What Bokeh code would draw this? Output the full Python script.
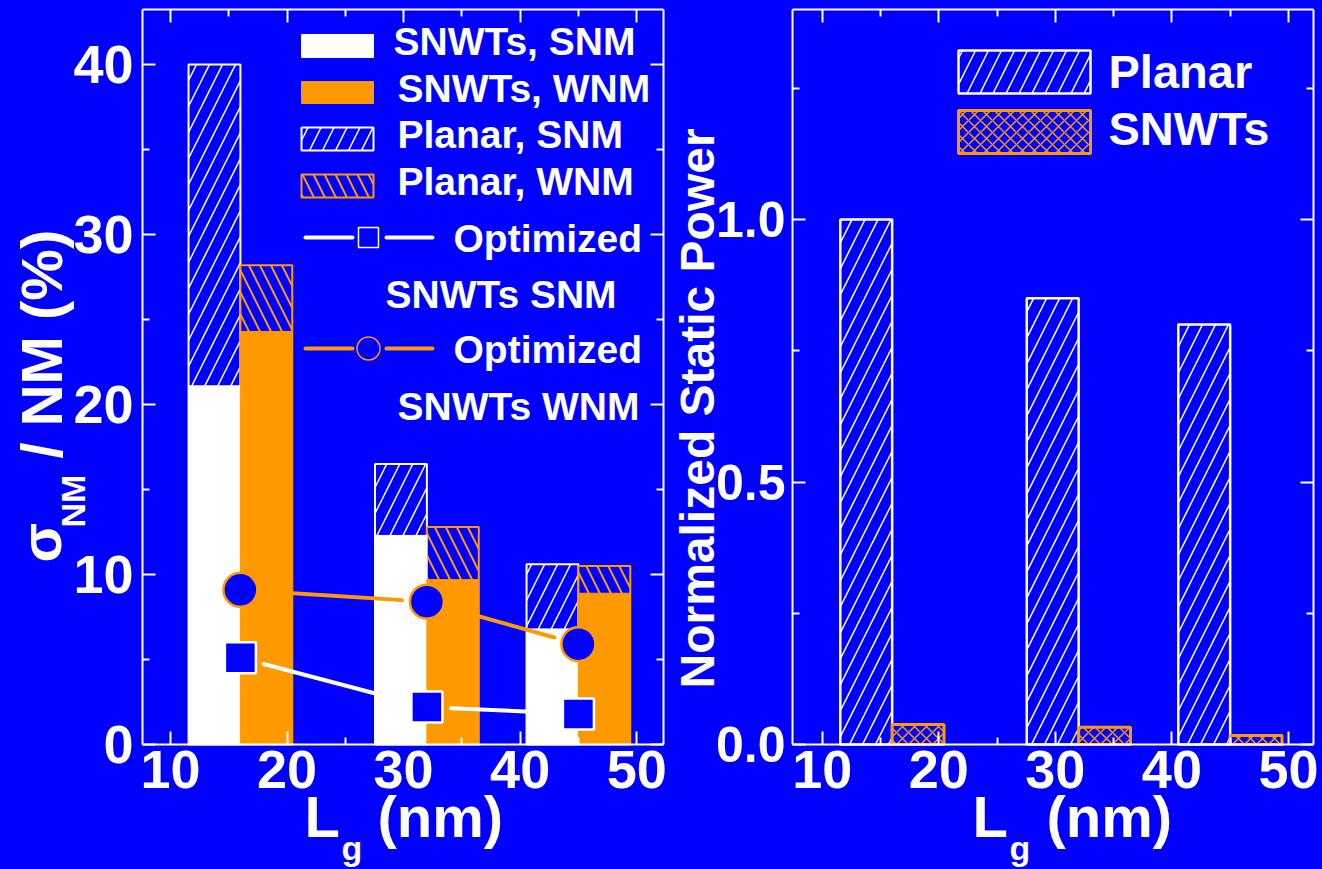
import math
from bokeh.plotting import figure
from bokeh.layouts import row
from bokeh.models import (Range1d, LinearAxis, FixedTicker, NumeralTickFormatter,
                          ColumnDataSource)
from bokeh.transform import dodge
from bokeh.core.properties import value
from bokeh.embed import file_html
from bokeh.resources import INLINE

# ---------------- data ----------------
lg_nm = [16, 32, 45]
planar_snm = [40.0, 16.5, 10.6]
snwt_snm = [21.1, 12.3, 6.8]
planar_wnm = [28.2, 12.8, 10.5]
snwt_wnm = [24.3, 9.7, 8.9]
opt_snwt_snm = [5.1, 2.2, 1.8]
opt_snwt_wnm = [9.1, 8.4, 5.9]
planar_power = [1.0, 0.85, 0.80]
snwt_power = [0.038, 0.033, 0.017]

x_ticks = [10, 20, 30, 40, 50]
x_minor_ticks = [15, 25, 35, 45]
left_y_ticks = [0, 10, 20, 30, 40]
left_y_minor = [5, 15, 25, 35]
right_y_ticks = [0.0, 0.5, 1.0]
right_y_minor = [0.25, 0.75, 1.25]

left_legend_labels = ["SNWTs, SNM", "SNWTs, WNM", "Planar, SNM", "Planar, WNM"]
opt_label_top = ["Optimized", "Optimized"]
opt_label_bottom = ["SNWTs SNM", "SNWTs WNM"]
right_legend_labels = ["Planar", "SNWTs"]
x_title_main = ["L", "(nm)"]
x_title_sub = ["g"]
left_y_title_main = ["\u03c3", "/ NM (%)"]
left_y_title_sub = ["NM"]
right_y_title = ["Normalized Static Power"]

# ---------------- style / layout ----------------
BLUE = "#0000FF"
ORANGE = "#FF9900"
WHITE = "#FFFFFF"
FONT = "Liberation Sans"
BAR_W = 4.45
FIG_H = 869
W_LEFT, W_RIGHT = 668, 654
BOX_T, BOX_B = 9, 744            # page y of plot box top / bottom
XR_L, YR_L = (7.6, 52.3), (0.0, 43.24)
XR_R, YR_R = (7.45, 52.15), (0.0, 1.4)
BOX_L_LEFT, BOX_R_LEFT = 142, 663
BOX_L_RIGHT, BOX_R_RIGHT = 792, 1313
BASE_SHIFT = 0.37                # baseline correction, in em


def style_axis(ax, ticks, minor, labels=True, standoff=10, size="54px"):
    ax.ticker = FixedTicker(ticks=ticks, minor_ticks=minor)
    ax.axis_line_color = WHITE
    ax.axis_line_width = 2
    ax.major_tick_line_color = WHITE
    ax.major_tick_line_width = 2
    ax.minor_tick_line_color = WHITE
    ax.minor_tick_line_width = 2
    ax.major_tick_in = 13
    ax.major_tick_out = 0
    ax.minor_tick_in = 7
    ax.minor_tick_out = 0
    if labels:
        ax.major_label_text_font = FONT
        ax.major_label_text_font_style = "bold"
        ax.major_label_text_font_size = size
        ax.major_label_text_color = WHITE
        ax.major_label_standoff = standoff
    else:
        ax.major_label_text_font_size = "0px"
        ax.major_label_standoff = 0
        ax.major_label_text_color = None


class Panel:
    def __init__(self, page_left, width, box_l, box_r, xr, yr):
        self.page_left, self.width = page_left, width
        self.box_l, self.box_r, self.xr, self.yr = box_l, box_r, xr, yr
        self.kx = (box_r - box_l) / (xr[1] - xr[0])
        self.ky = (BOX_B - BOX_T) / (yr[1] - yr[0])

    def d(self, px, py):
        return (self.xr[0] + (px - self.box_l) / self.kx,
                self.yr[0] + (BOX_B - py) / self.ky)

    def figure(self, yticks, yminor, ystand, ysize):
        x0 = self.d(self.page_left, 0)[0]
        x1 = self.d(self.page_left + self.width, 0)[0]
        y0 = self.d(0, FIG_H)[1]
        y1 = self.d(0, 0)[1]
        p = figure(width=self.width, height=FIG_H, x_range=Range1d(x0, x1),
                   y_range=Range1d(y0, y1), min_border=0, title=None,
                   output_backend="svg", toolbar_location=None)
        p.background_fill_color = BLUE
        p.border_fill_color = BLUE
        p.outline_line_color = None
        p.xgrid.visible = False
        p.ygrid.visible = False
        xa = p.xaxis[0]
        xa.fixed_location = self.yr[0]
        xa.bounds = self.xr
        style_axis(xa, x_ticks, x_minor_ticks, True, 6)
        ya = p.yaxis[0]
        ya.fixed_location = self.xr[0]
        ya.bounds = self.yr
        style_axis(ya, yticks, yminor, True, ystand, ysize)
        top = LinearAxis(fixed_location=self.yr[1], bounds=self.xr)
        style_axis(top, x_ticks, x_minor_ticks, False)
        p.add_layout(top, "above")
        right = LinearAxis(fixed_location=self.xr[1], bounds=self.yr)
        style_axis(right, yticks, yminor, False)
        p.add_layout(right, "right")
        self.p = p
        return p

    def texts(self, pos, labels, size, rotated=False):
        sh = BASE_SHIFT * size
        if rotated:
            pts = [self.d(a - sh, b) for a, b in pos]
        else:
            pts = [self.d(a, b - sh) for a, b in pos]
        self.p.text(x=[q[0] for q in pts], y=[q[1] for q in pts], text=labels,
                    angle=math.pi / 2 if rotated else 0.0,
                    text_font=value(FONT), text_font_style="bold",
                    text_font_size=value(f"{size}px"), text_color=WHITE,
                    text_align="left", text_baseline="alphabetic")

    def rect(self, l, r, t, b, **style):
        (x0, y0), (x1, y1) = self.d(l, b), self.d(r, t)
        self.p.quad(left=[x0], right=[x1], bottom=[y0], top=[y1], **style)

    def gapped(self, xs, ys, gap):
        x0, y0, x1, y1 = [], [], [], []
        for i in range(len(xs) - 1):
            dx = xs[i + 1] - xs[i]
            dy = ys[i + 1] - ys[i]
            t = gap / math.hypot(dx * self.kx, dy * self.ky)
            x0.append(xs[i] + dx * t)
            y0.append(ys[i] + dy * t)
            x1.append(xs[i + 1] - dx * t)
            y1.append(ys[i + 1] - dy * t)
        return x0, y0, x1, y1


PLANAR_SNM_STYLE = dict(fill_color=BLUE, line_color=WHITE, line_width=2,
                        hatch_pattern="/", hatch_color=WHITE, hatch_scale=26,
                        hatch_weight=1.5)
PLANAR_WNM_STYLE = dict(fill_color=BLUE, line_color=ORANGE, line_width=2,
                        hatch_pattern="\\", hatch_color=ORANGE, hatch_scale=22,
                        hatch_weight=2)
SNWT_CROSS_STYLE = dict(fill_color=BLUE, line_color=ORANGE, line_width=3,
                        hatch_pattern="x", hatch_color=ORANGE, hatch_scale=12,
                        hatch_weight=1.5)

# ================= left panel =================
L = Panel(0, W_LEFT, BOX_L_LEFT, BOX_R_LEFT, XR_L, YR_L)
p1 = L.figure(left_y_ticks, left_y_minor, 9, "54px")
src = ColumnDataSource(dict(lg=lg_nm, planar_snm=planar_snm, snwt_snm=snwt_snm,
                            planar_wnm=planar_wnm, snwt_wnm=snwt_wnm,
                            opt_snm=opt_snwt_snm, opt_wnm=opt_snwt_wnm))
xl = dodge("lg", -BAR_W / 2, range=p1.x_range)
xr_ = dodge("lg", BAR_W / 2, range=p1.x_range)
p1.vbar(x=xl, top="planar_snm", width=BAR_W, source=src, **PLANAR_SNM_STYLE)
p1.vbar(x=xr_, top="planar_wnm", width=BAR_W, source=src, **PLANAR_WNM_STYLE)
p1.vbar(x=xl, top="snwt_snm", width=BAR_W, source=src, fill_color=WHITE,
        line_color=WHITE, line_width=1)
p1.vbar(x=xr_, top="snwt_wnm", width=BAR_W, source=src, fill_color=ORANGE,
        line_color=ORANGE, line_width=1)

s = L.gapped(lg_nm, opt_snwt_snm, 24)
p1.segment(x0=s[0], y0=s[1], x1=s[2], y1=s[3], line_color=WHITE, line_width=4,
           line_cap="round")
s = L.gapped(lg_nm, opt_snwt_wnm, 25)
p1.segment(x0=s[0], y0=s[1], x1=s[2], y1=s[3], line_color=ORANGE, line_width=4,
           line_cap="round")
p1.scatter(x="lg", y="opt_snm", source=src, marker="square", size=31,
           fill_color=BLUE, line_color=WHITE, line_width=2.5)
p1.scatter(x="lg", y="opt_wnm", source=src, marker="circle", size=34,
           fill_color=BLUE, line_color=ORANGE, line_width=2.5)

# ---- left legend ----
L.rect(301, 373, 34, 57, fill_color=WHITE, line_color=WHITE, line_width=1)
L.rect(301, 373, 81, 103, fill_color=ORANGE, line_color=ORANGE, line_width=1)
L.rect(301, 373, 127, 150, **PLANAR_SNM_STYLE)
L.rect(301, 373, 174, 197, **PLANAR_WNM_STYLE)
L.texts([(393, 55), (397, 102), (397, 148), (397, 195)], left_legend_labels, 39)

for col, ly, mk, msz in [(WHITE, 237, "square", 20), (ORANGE, 348, "circle", 23)]:
    a0, yy = L.d(305, ly)
    a1 = L.d(352, ly)[0]
    b0 = L.d(386, ly)[0]
    b1 = L.d(432, ly)[0]
    p1.segment(x0=[a0, b0], y0=[yy, yy], x1=[a1, b1], y1=[yy, yy], line_color=col,
               line_width=4, line_cap="round")
    p1.scatter(x=[L.d(368, ly)[0]], y=[yy], marker=mk, size=msz, fill_color=BLUE,
               line_color=col, line_width=1.5)
L.texts([(453, 252), (453, 363)], opt_label_top, 39)
L.texts([(385, 308), (397, 420)], opt_label_bottom, 39)

# ---- left titles ----
L.texts([(304, 837), (377, 837)], x_title_main, 58)
L.texts([(341, 860)], x_title_sub, 34)
L.texts([(61, 562), (62, 458)], left_y_title_main, 58, rotated=True)
L.texts([(85, 527)], left_y_title_sub, 34, rotated=True)

# ================= right panel =================
R = Panel(W_LEFT, W_RIGHT, BOX_L_RIGHT, BOX_R_RIGHT, XR_R, YR_R)
p2 = R.figure(right_y_ticks, right_y_minor, 7, "50px")
p2.yaxis[0].formatter = NumeralTickFormatter(format="0.0")
src2 = ColumnDataSource(dict(lg=lg_nm, planar=planar_power, snwt=snwt_power))
p2.vbar(x=dodge("lg", -BAR_W / 2, range=p2.x_range), top="planar", width=BAR_W,
        source=src2, **dict(PLANAR_SNM_STYLE, line_width=2.5))
p2.vbar(x=dodge("lg", BAR_W / 2, range=p2.x_range), top="snwt", width=BAR_W,
        source=src2, **SNWT_CROSS_STYLE)

R.rect(958, 1090, 50, 93, **dict(PLANAR_SNM_STYLE, line_width=2.5))
R.rect(958, 1090, 110, 153, **SNWT_CROSS_STYLE)
R.texts([(1108, 88), (1108, 145)], right_legend_labels, 47)

R.texts([(972, 837), (1046, 837)], x_title_main, 58)
R.texts([(1009, 860)], x_title_sub, 34)
R.texts([(715, 688)], right_y_title, 48, rotated=True)

layout = row(p1, p2, spacing=0)
html = file_html(layout, INLINE)
html = html.replace(
    "</head>",
    "<style>html, body {background-color: #0000FF; overflow: hidden;}</style></head>", 1)
open("out.html", "w").write(html)
